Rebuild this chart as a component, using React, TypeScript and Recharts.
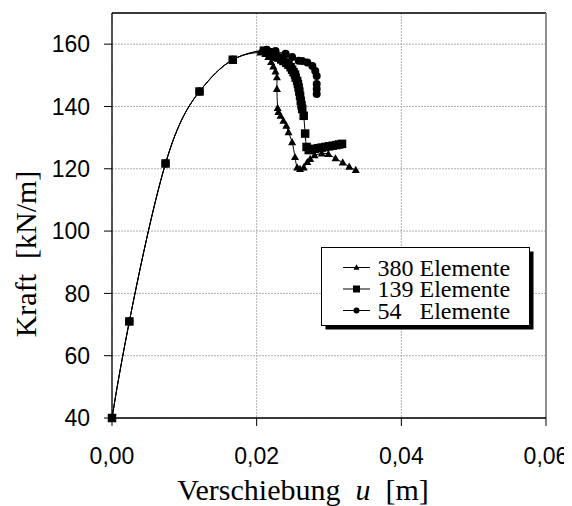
import React from 'react';
import { ComposedChart, Line, XAxis, YAxis, CartesianGrid, ReferenceLine, Legend, Customized } from 'recharts';

// shared loading branch
const initU = [0, 0.0024, 0.0074, 0.0121, 0.0167];
const initF = [40, 71, 121.7, 144.8, 155.0];

// 380 Elemente (triangles)
const triU = [0.0205, 0.0212, 0.0216, 0.0220, 0.0223, 0.0226, 0.0228, 0.0228, 0.0229, 0.0230, 0.0233, 0.0237, 0.0241, 0.0244, 0.0249, 0.0253, 0.0256, 0.0260, 0.0265, 0.0270, 0.0274, 0.0280, 0.0290, 0.0299, 0.0309, 0.0319, 0.0328, 0.0337];
const triF = [157.3, 156.8, 155.8, 154.2, 152.8, 151.2, 149.3, 145.6, 139.5, 138.2, 137.0, 135.4, 133.8, 131.7, 128.5, 123.7, 120.4, 119.9, 120.4, 122.1, 123.1, 124.3, 124.9, 124.7, 123.3, 122.0, 120.6, 119.6];

// 139 Elemente (squares)
const sqU = [0.0210, 0.0216, 0.0221, 0.0226, 0.0230, 0.0234, 0.0237, 0.0241, 0.0244, 0.0247, 0.0249, 0.0251, 0.0253, 0.0254, 0.0256, 0.0257, 0.0258, 0.0259, 0.0260, 0.0261, 0.0262, 0.0263, 0.0265, 0.0267, 0.0269, 0.0272, 0.0276, 0.0280, 0.0285, 0.0290, 0.0295, 0.0300, 0.0305, 0.0310, 0.0314, 0.0318];
const sqF = [157.9, 157.4, 156.6, 156.0, 155.7, 155.1, 154.6, 154.0, 153.4, 152.6, 151.8, 151.0, 150.2, 149.2, 148.2, 147.2, 146.1, 144.8, 143.4, 141.8, 140.4, 139.2, 137.0, 131.3, 127.0, 126.0, 126.2, 126.4, 126.6, 126.8, 127.0, 127.2, 127.4, 127.6, 127.8, 128.0];

// 54 Elemente (circles)
const ciU = [0.0214, 0.0226, 0.0240, 0.0249, 0.0258, 0.0263, 0.0270, 0.0277, 0.0281, 0.0283, 0.0283, 0.0283, 0.0283];
const ciF = [158.2, 157.8, 156.9, 155.9, 154.7, 154.6, 154.1, 153.0, 151.4, 149.8, 147.2, 145.6, 144.0];

const xTicks = [0, 0.02, 0.04, 0.06];
const yTicks = [40, 60, 80, 100, 120, 140, 160];
const seriesNames = ['380 Elemente', '139 Elemente', '54 Elemente'];

const build = (us: number[], fs: number[]) => initU.map((u, i) => ({ u, F: initF[i] })).concat(us.map((u, i) => ({ u, F: fs[i] })));

const triData = build(triU, triF);
const sqData = build(sqU, sqF);
const ciData = build(ciU, ciF);

const SERIF = "'Liberation Serif', 'Times New Roman', 'DejaVu Serif', serif";
const SANS = "'Liberation Sans', Arial, sans-serif";

const Marker = ({ kind, cx, cy, s }: { kind: string; cx: number; cy: number; s: number }) => {
  if (kind === 'tri') {
    const h = s * 0.9;
    return <polygon points={`${cx},${cy - h * 0.6} ${cx - s / 2},${cy + h * 0.4} ${cx + s / 2},${cy + h * 0.4}`} fill="#000" />;
  }
  if (kind === 'sq') return <rect x={cx - s / 2} y={cy - s / 2} width={s} height={s} fill="#000" />;
  return <circle cx={cx} cy={cy} r={s / 2} fill="#000" />;
};

const makeDot = (kind: string, s: number) => (props: any) => {
  const { cx, cy, index } = props;
  if (cx == null || cy == null) return <g key={`${kind}-${index}`} />;
  return <g key={`${kind}-${index}`}><Marker kind={kind} cx={cx} cy={cy} s={s} /></g>;
};

const fmt = (v: number) => v.toFixed(2).replace('.', ',');

const LegendBox = () => {
  const kinds = ['tri', 'sq', 'ci'];
  const centers = [20.5, 42, 63.5];
  return (
    <svg width={214} height={84} style={{ display: 'block' }}>
      <rect x={4.5} y={4.5} width={208} height={78} fill="#000" />
      <rect x={0.5} y={0.5} width={208} height={78} fill="#fff" stroke="#000" strokeWidth={1} />
      {seriesNames.map((name, i) => {
        const [num, word] = name.split(' ');
        const cy = centers[i];
        return (
          <g key={name}>
            <line x1={22} y1={cy} x2={49} y2={cy} stroke="#000" strokeWidth={1} />
            <Marker kind={kinds[i]} cx={35.5} cy={cy} s={kinds[i] === 'sq' ? 7 : 6} />
            <text x={56.5} y={cy} dy="0.34em" fontFamily={SERIF} fontSize={24} fill="#000">{num}</text>
            <text x={98.5} y={cy} dy="0.34em" fontFamily={SERIF} fontSize={24} fill="#000">{word}</text>
          </g>
        );
      })}
    </svg>
  );
};

const Titles = () => (
  <g>
    <text x={17} y={246} transform="rotate(-90 17 246)" textAnchor="middle" dominantBaseline="central" fontFamily={SERIF} fontSize={30} fill="#000">
      Kraft{'\u00a0\u00a0'}[kN/m]
    </text>
    <text x={295} y={492} textAnchor="middle" fontFamily={SERIF} fontSize={30} fill="#000">
      Verschiebung{'\u00a0\u00a0'}<tspan fontStyle="italic">u</tspan>{'\u00a0\u00a0'}[m]
    </text>
  </g>
);

export default function App() {
  return (
    <div>
      <style>{'html,body{overflow:hidden;}'}</style>
      <ComposedChart width={564} height={498} margin={{ top: 5, right: 26, left: 24, bottom: 48 }}>
        <CartesianGrid stroke="#b0b0b0" strokeDasharray="2 1" />
        <XAxis
          dataKey="u"
          type="number"
          domain={[0, 0.06]}
          ticks={xTicks}
          tickFormatter={fmt}
          height={40}
          tickSize={8}
          tickMargin={22}
          axisLine={{ stroke: '#000', strokeWidth: 1.3 }}
          tickLine={{ stroke: '#000' }}
          tick={{ fill: '#000', fontFamily: SANS, fontSize: 23 }}
        />
        <YAxis
          type="number"
          domain={[40, 170]}
          ticks={yTicks}
          width={80}
          tickSize={8}
          tickMargin={14}
          axisLine={{ stroke: '#000', strokeWidth: 1.3 }}
          tickLine={{ stroke: '#000' }}
          tick={{ fill: '#000', fontFamily: SANS, fontSize: 23 }}
        />
        <ReferenceLine y={170} stroke="#000" strokeWidth={1.3} />
        <ReferenceLine x={0.06} stroke="#808080" strokeWidth={1.7} />
        <Line data={triData} dataKey="F" name={seriesNames[0]} type="natural" stroke="#000" strokeWidth={1} dot={makeDot('tri', 8)} activeDot={false} isAnimationActive={false} />
        <Line data={sqData} dataKey="F" name={seriesNames[1]} type="natural" stroke="#000" strokeWidth={1} dot={makeDot('sq', 8.5)} activeDot={false} isAnimationActive={false} />
        <Line data={ciData} dataKey="F" name={seriesNames[2]} type="natural" stroke="#000" strokeWidth={1} dot={makeDot('ci', 8)} activeDot={false} isAnimationActive={false} />
        <Legend layout="vertical" align="center" verticalAlign="middle" content={() => <LegendBox />} wrapperStyle={{ left: 312.7, top: 238.7, width: 'auto', height: 'auto', lineHeight: 0 }} />
        <Customized component={Titles} />
      </ComposedChart>
    </div>
  );
}
